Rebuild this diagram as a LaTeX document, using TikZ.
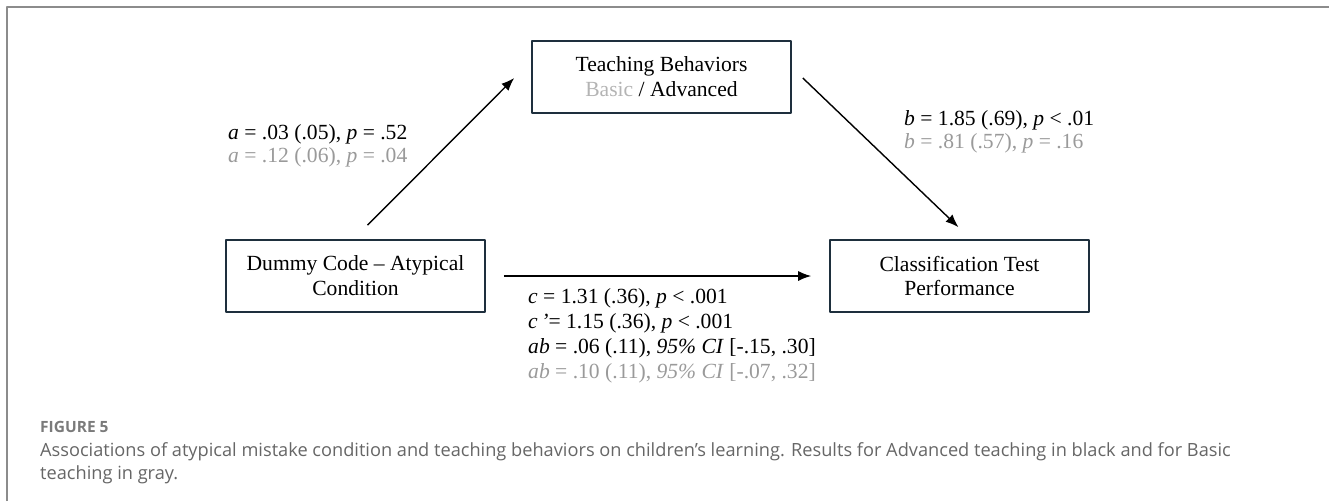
\documentclass[tikz,border=0pt]{standalone}
\usepackage{fontspec}
\setmainfont{Liberation Serif}
\newfontfamily\capfont{Open Sans}
\usetikzlibrary{arrows.meta,positioning}
\definecolor{boxline}{HTML}{1E2F3D}
\definecolor{lightgr}{HTML}{9A9A9A}
\definecolor{basicgr}{HTML}{B4B4B4}
\definecolor{capgr}{HTML}{666666}
\definecolor{figgr}{HTML}{7A7A7A}
\definecolor{framegr}{HTML}{8C8C8C}
\begin{document}
\begin{tikzpicture}[x=1pt, y=-1pt, font=\fontsize{21.6}{24.8}\selectfont, line join=round, >={Latex[length=13pt,width=10pt]},
	varbox/.style={draw=boxline, line width=1.6pt, minimum width=259pt, minimum height=72pt, align=center, inner sep=0pt},
	coef/.style={align=left, anchor=west, inner sep=0pt, font=\fontsize{21.6}{23.5}\selectfont},
	effect/.style={->, line width=1.4pt},
	captext/.style={align=left, inner sep=0pt, text=capgr}]
	\useasboundingbox (0,0) rectangle (1329,501);
	\draw[framegr, line width=1.5pt] (7,501) -- (7,7) -- (1329,7);
	% variables
	\node[varbox] (teach) at (661.5,77) {Teaching Behaviors\\\textcolor{basicgr}{Basic} / Advanced};
	\node[varbox] (dummy) at (355.5,276) {Dummy Code -- Atypical\\Condition};
	\node[varbox] (classif) at (959.5,276) {Classification Test\\Performance};
	% paths
	\draw[effect] ([shift={(12,-14)}]dummy.north) -- ([shift={(-17,1)}]teach.west);
	\draw[effect] ([shift={(11,1)}]teach.east) -- ([shift={(-1,-12)}]classif.north);
	\draw[effect] ([xshift=18pt]dummy.east) -- ([xshift=-18pt]classif.west);
	% coefficients
	\node[coef] (alab) at (228,146) {\textit{a} = .03 (.05), \textit{p} = .52\\\textcolor{lightgr}{\textit{a} = .12 (.06), \textit{p} = .04}};
	\node[coef] (blab) at (904,132) {\textit{b} = 1.85 (.69), \textit{p} {\textless} .01\\\textcolor{lightgr}{\textit{b} = .81 (.57), \textit{p} = .16}};
	\node[coef, font=\fontsize{21.6}{25}\selectfont] (clab) at (528,336) {\textit{c} = 1.31 (.36), \textit{p} {\textless} .001\\
		\textit{c\,’}= 1.15 (.36), \textit{p} {\textless} .001\\
		\textit{ab} = .06 (.11), \textit{95\% CI} [-.15, .30]\\
		\textcolor{lightgr}{\textit{ab} = .10 (.11), \textit{95\% CI} [-.07, .32]}};
	% caption
	\node[captext, text=figgr, anchor=base west, font=\capfont\bfseries\fontsize{15.5}{18}\selectfont] (fig) at (40,432) {FIGURE 5};
	\node[captext, font=\capfont\fontsize{18.2}{23}\selectfont, below=10pt of fig.south west, anchor=north west] (cap) {Associations of atypical mistake condition and teaching behaviors on children’s learning. Results for Advanced teaching in black and for Basic\\teaching in gray.};
\end{tikzpicture}
\end{document}
